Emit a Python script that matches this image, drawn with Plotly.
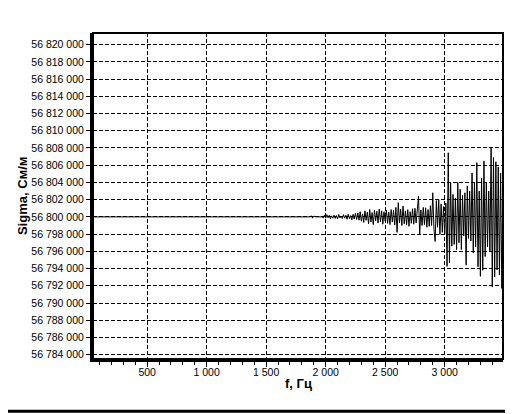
#!/usr/bin/env python3
"""
Sigma(f) – проводимость от частоты, вид как в старом отчёте
"""

import plotly.graph_objects as go

# ---------- данные ----------

SIGMA_BASE = 56800000  # См/м, уровень до начала шума

# ровный участок
flat_freq = [45, 1860]
flat_dev = [0, 0]

# шумный участок, шаг 10 Гц
noise_freq = [
    1870, 1880, 1890, 1900, 1910, 1920, 1930, 1940, 1950, 1960,
    1970, 1980, 1990, 2000, 2010, 2020, 2030, 2040, 2050, 2060,
    2070, 2080, 2090, 2100, 2110, 2120, 2130, 2140, 2150, 2160,
    2170, 2180, 2190, 2200, 2210, 2220, 2230, 2240, 2250, 2260,
    2270, 2280, 2290, 2300, 2310, 2320, 2330, 2340, 2350, 2360,
    2370, 2380, 2390, 2400, 2410, 2420, 2430, 2440, 2450, 2460,
    2470, 2480, 2490, 2500, 2510, 2520, 2530, 2540, 2550, 2560,
    2570, 2580, 2590, 2600, 2610, 2620, 2630, 2640, 2650, 2660,
    2670, 2680, 2690, 2700, 2710, 2720, 2730, 2740, 2750, 2760,
    2770, 2780, 2790, 2800, 2810, 2820, 2830, 2840, 2850, 2860,
    2870, 2880, 2890, 2900, 2910, 2920, 2930, 2940, 2950, 2960,
    2970, 2980, 2990, 3000, 3010, 3020, 3030, 3040, 3050, 3060,
    3070, 3080, 3090, 3100, 3110, 3120, 3130, 3140, 3150, 3160,
    3170, 3180, 3190, 3200, 3210, 3220, 3230, 3240, 3250, 3260,
    3270, 3280, 3290, 3300, 3310, 3320, 3330, 3340, 3350, 3360,
    3370, 3380, 3390, 3400, 3410, 3420, 3430, 3440, 3450, 3460,
    3470, 3480, 3490,
]
noise_dev = [
    0, 120, -150, 80, 0, 0, 0, 0, 0, 0,
    0, -120, 200, -150, 250, -100, 180, -230, 120, -150,
    200, -180, 150, -250, 280, -120, 100, -200, 260, -150,
    180, -280, 320, -200, 150, -350, 300, -250, 400, -300,
    450, -380, 600, -500, 350, -650, 700, -400, 550, -800,
    850, -600, 500, -900, 750, -450, 650, -700, 900, -550,
    700, -850, 600, -500, 800, -750, 550, -900, 850, -600,
    750, -950, 1100, -1800, 1650, -700, 900, -1000, 1250, -800,
    700, -900, 850, -1100, 600, -750, 950, -850, 1000, -700,
    1200, 2400, -2100, 800, -1000, 1100, -900, 1050, -1200, 850,
    -1100, 1300, -1000, 2800, -1500, -2850, 1900, -1200, 2000, -2050,
    1500, -1800, 1200, -2000, 1600, -5750, 7450, -5350, 3950, -3400,
    2600, -3200, 2200, -3800, 4000, -3000, 3200, -3800, 2500, -2200,
    2800, -5600, 3600, -2500, 3000, -2800, 5100, -4200, 4000, -3500,
    6300, -5800, 3000, -6900, 4500, -6200, 6500, -4600, 4000, -3500,
    3000, -4000, 8050, -8150, 6900, -6950, 6400, -6150, 5800, -6750,
    5100, -8300, 2600,
]

x_range = [45, 3490]
y_range = [56783500, 56821350]

# ---------- график ----------

freq = flat_freq + noise_freq
sigma = [SIGMA_BASE + d for d in flat_dev + noise_dev]

fig = go.Figure()
fig.add_trace(go.Scatter(
    x=freq, y=sigma, mode="lines",
    line=dict(color="#000000", width=1),
    showlegend=False, hoverinfo="x+y",
))

tick_font = dict(family="Liberation Sans, Arial, sans-serif", size=10.5, color="#000000")
title_font = dict(family="Liberation Sans, Arial, sans-serif", size=13, color="#000000")

# страница имеет отступ 8px у body, поэтому фигура чуть меньше окна
fig.update_layout(
    width=505, height=406,
    margin=dict(l=85, r=10, t=25, b=55),
    paper_bgcolor="#ffffff",
    plot_bgcolor="#ffffff",
    separators=", ",
    showlegend=False,
    shapes=[
        # рамка графика
        dict(type="rect", xref="paper", yref="paper", x0=0, x1=1, y0=0, y1=1,
             line=dict(color="#000000", width=2), layer="above"),
        # линия внизу окна
        dict(type="line", xref="paper", yref="paper", x0=-0.25, x1=1.1,
             y0=-0.16, y1=-0.16, line=dict(color="#000000", width=3)),
    ],
    annotations=[
        dict(text="<b>f, Гц</b>", xref="paper", yref="paper", x=0.5, y=-0.075,
             xanchor="center", yanchor="middle", showarrow=False, font=title_font),
        dict(text="<b>Sigma, См/м</b>", xref="paper", yref="paper", x=-0.173, y=0.5,
             xanchor="center", yanchor="middle", textangle=-90, showarrow=False,
             font=title_font),
    ],
)

fig.update_xaxes(
    range=x_range,
    tick0=0, dtick=500, tickformat=",d",
    ticks="outside", ticklen=5, tickwidth=1, tickcolor="#000000",
    ticklabelstandoff=-4,
    minor=dict(dtick=100, ticks="outside", ticklen=3, tickcolor="#000000", showgrid=False),
    showline=True, linewidth=3, linecolor="#000000",
    showgrid=True, gridcolor="#000000", gridwidth=1, griddash="4px,2px",
    zeroline=False,
    tickfont=tick_font,
)
fig.update_yaxes(
    range=y_range,
    tick0=SIGMA_BASE, dtick=2000, tickformat=",d",
    ticks="outside", ticklen=4, tickwidth=1, tickcolor="#000000",
    showline=True, linewidth=3, linecolor="#000000",
    showgrid=True, gridcolor="#000000", gridwidth=1, griddash="4px,2px",
    zeroline=False,
    tickfont=tick_font,
)

fig.write_html("out.html")
